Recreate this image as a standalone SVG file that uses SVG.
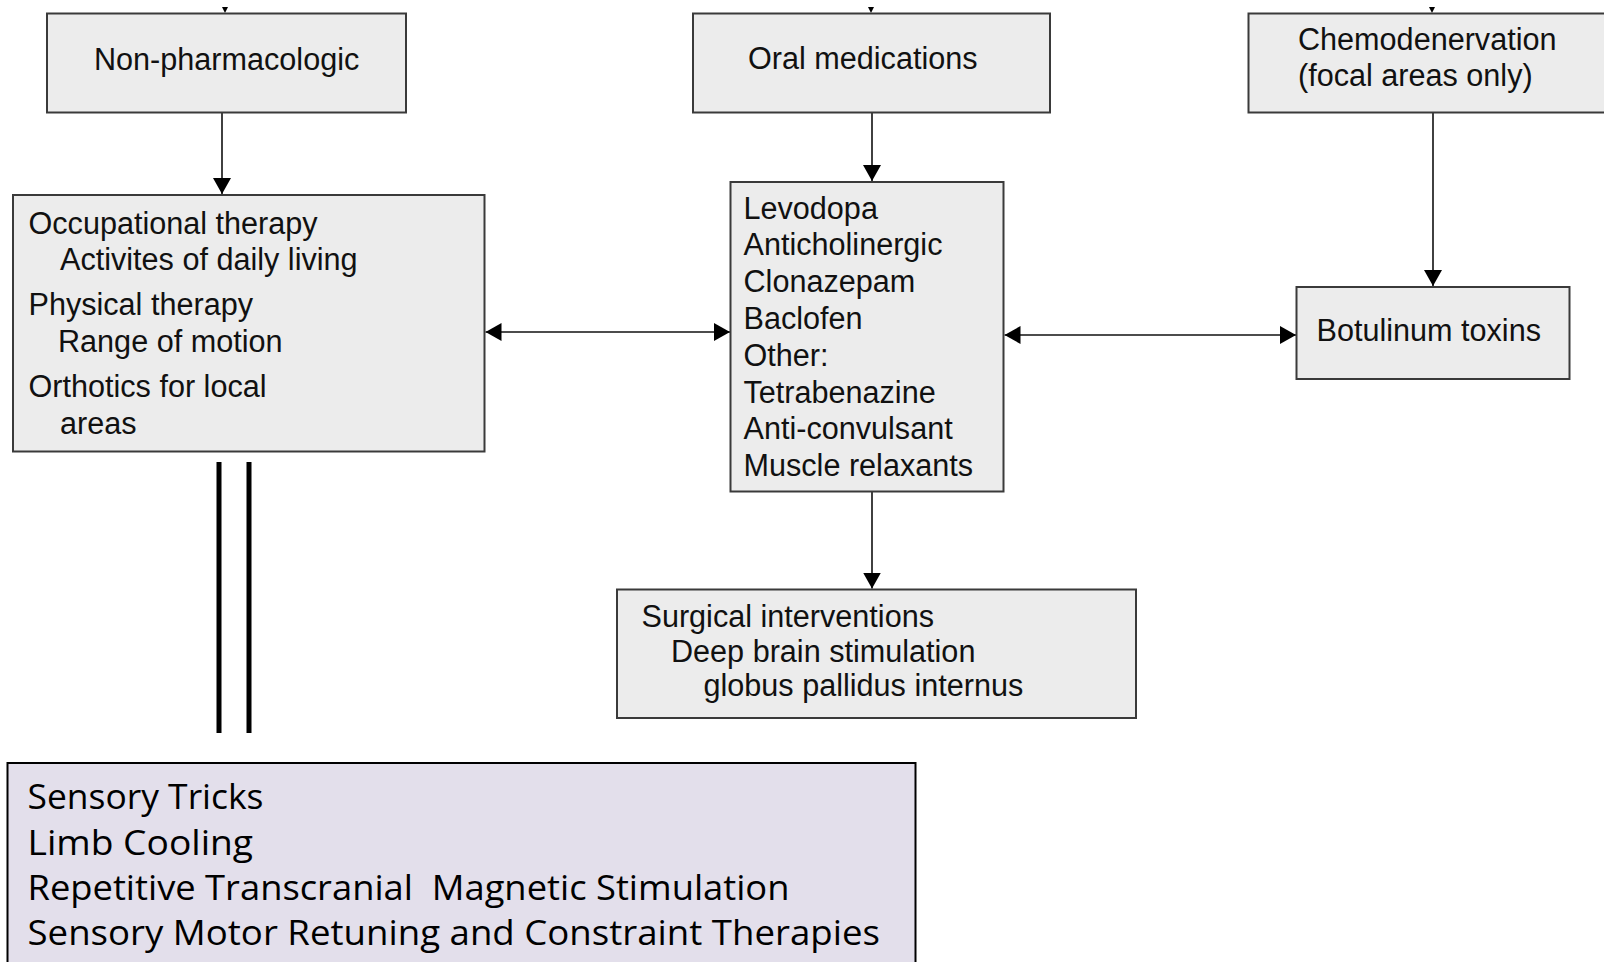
<svg xmlns="http://www.w3.org/2000/svg" width="1604" height="962" viewBox="0 0 1604 962">
<style>
.box{fill:#ececec;stroke:#3a3a3a;stroke-width:2}
.t{font-family:"Liberation Sans",Arial,sans-serif;font-size:30.6px;fill:#111}
.b{font-family:"Open Sans","Noto Sans",sans-serif;font-size:35px;fill:#000}
.c{stroke:#111;stroke-width:1.6;fill:none}
</style>
<defs>
<marker id="ah" viewBox="0 0 16 18" refX="16" refY="9" markerWidth="16" markerHeight="18" markerUnits="userSpaceOnUse" orient="auto-start-reverse">
<path d="M0,0 L16,9 L0,18 Z" fill="#000"/>
</marker>
</defs>
<rect width="1604" height="962" fill="#fff"/>
<g id="connectors">
<path d="M222,7 L228,7 L225,13 Z" fill="#000"/>
<path d="M868,7 L874,7 L871,13 Z" fill="#000"/>
<path d="M1429,7 L1435,7 L1432,13 Z" fill="#000"/>
<line class="c" x1="222" y1="113" x2="222" y2="194" marker-end="url(#ah)"/>
<line class="c" x1="872" y1="113" x2="872" y2="181" marker-end="url(#ah)"/>
<line class="c" x1="1433" y1="112" x2="1433" y2="286" marker-end="url(#ah)"/>
<line class="c" x1="485.5" y1="332" x2="730" y2="332" marker-start="url(#ah)" marker-end="url(#ah)"/>
<line class="c" x1="1004.5" y1="335" x2="1296" y2="335" marker-start="url(#ah)" marker-end="url(#ah)"/>
<line class="c" x1="872" y1="492" x2="872" y2="588.5" marker-end="url(#ah)"/>
<line x1="219" y1="462" x2="219" y2="733" stroke="#000" stroke-width="5"/>
<line x1="249" y1="462" x2="249" y2="733" stroke="#000" stroke-width="5"/>
</g>
<g id="non-pharmacologic">
<rect class="box" x="47" y="13.5" width="359" height="99"/>
<text class="t" x="94" y="70">Non-pharmacologic</text>
</g>
<g id="oral-medications">
<rect class="box" x="693" y="13.5" width="357" height="99"/>
<text class="t" x="748" y="69">Oral medications</text>
</g>
<g id="chemodenervation">
<rect class="box" x="1248.5" y="13.5" width="370" height="99"/>
<text class="t" x="1298" y="50">Chemodenervation</text>
<text class="t" x="1298" y="86">(focal areas only)</text>
</g>
<g id="therapies">
<rect class="box" x="13" y="195" width="471.5" height="256.5"/>
<text class="t" x="28.5" y="234">Occupational therapy</text>
<text class="t" x="60" y="270">Activites of daily living</text>
<text class="t" x="28.5" y="315">Physical therapy</text>
<text class="t" x="58" y="351.5">Range of motion</text>
<text class="t" x="28.5" y="396.5">Orthotics for local</text>
<text class="t" x="60" y="434">areas</text>
</g>
<g id="drugs">
<rect class="box" x="730.5" y="182" width="273" height="309.5"/>
<text class="t" x="743.5" y="218.5">Levodopa</text>
<text class="t" x="743.5" y="255">Anticholinergic</text>
<text class="t" x="743.5" y="291.5">Clonazepam</text>
<text class="t" x="743.5" y="329">Baclofen</text>
<text class="t" x="743.5" y="366">Other:</text>
<text class="t" x="743.5" y="402.5">Tetrabenazine</text>
<text class="t" x="743.5" y="439">Anti-convulsant</text>
<text class="t" x="743.5" y="476">Muscle relaxants</text>
</g>
<g id="botulinum">
<rect class="box" x="1296.5" y="287" width="273" height="92"/>
<text class="t" x="1316.5" y="340.5">Botulinum toxins</text>
</g>
<g id="surgical">
<rect class="box" x="617" y="589.5" width="519" height="128.5"/>
<text class="t" x="641.5" y="626.5">Surgical interventions</text>
<text class="t" x="671" y="661.5">Deep brain stimulation</text>
<text class="t" x="703.5" y="696">globus pallidus internus</text>
</g>
<g id="other-therapies">
<rect x="7.5" y="763" width="908" height="230" fill="#e3dfeb" stroke="#000" stroke-width="2"/>
<text class="b" x="27.5" y="809" textLength="236" lengthAdjust="spacingAndGlyphs">Sensory Tricks</text>
<text class="b" x="27.5" y="854.5" textLength="225.5" lengthAdjust="spacingAndGlyphs">Limb Cooling</text>
<text class="b" x="27.5" y="900" textLength="762" lengthAdjust="spacingAndGlyphs" xml:space="preserve">Repetitive Transcranial  Magnetic Stimulation</text>
<text class="b" x="27.5" y="944.5" textLength="852.5" lengthAdjust="spacingAndGlyphs">Sensory Motor Retuning and Constraint Therapies</text>
</g>
</svg>
